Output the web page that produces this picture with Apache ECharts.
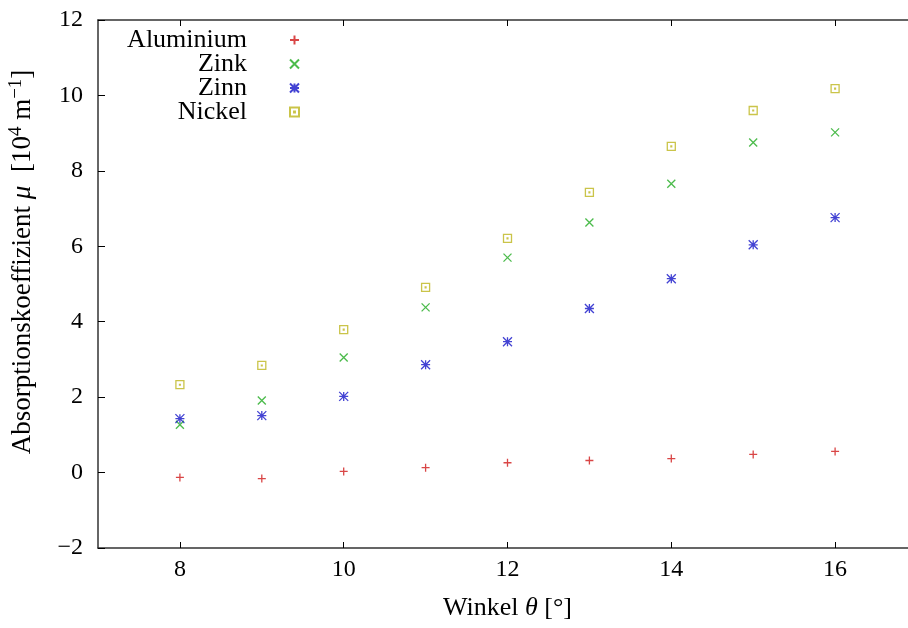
<!DOCTYPE html>
<html>
<head>
<meta charset="utf-8">
<script src="https://cdn.jsdelivr.net/npm/echarts@6/dist/echarts.min.js"></script>
<style>
  html, body { margin: 0; padding: 0; background: #fff; }
  #chart { width: 908px; height: 628px; }
</style>
</head>
<body>
<div id="chart"></div>
<script>
// Winkel theta in Grad
const winkel = [8, 9, 10, 11, 12, 13, 14, 15, 16]
// Absorptionskoeffizient in 10^4 m^-1
const aluminium = [-0.13, -0.16, 0.03, 0.13, 0.26, 0.32, 0.37, 0.48, 0.56]
const zink = [1.27, 1.91, 3.05, 4.38, 5.70, 6.63, 7.66, 8.75, 9.02]
const zinn = [1.43, 1.51, 2.02, 2.86, 3.47, 4.35, 5.14, 6.04, 6.76]
const nickel = [2.33, 2.84, 3.79, 4.91, 6.21, 7.43, 8.65, 9.60, 10.18]

const xTicks = [8, 10, 12, 14, 16]

const font = '"Liberation Serif", "DejaVu Serif", serif'

const symPlus = 'path://M5,0V10M0,5H10'
const symCross = 'path://M0,0L10,10M10,0L0,10'
const symStar = 'path://M0,0L10,10M10,0L0,10M5,0V10M0,5H10'
const symBox = 'path://M0,0H10V10H0ZM4.5,4.5H5.5V5.5H4.5Z'

function pairs(ys) {
  return winkel.map((x, i) => [x, ys[i]])
}

const seriesDefs = [
  { name: 'Aluminium', data: aluminium, symbol: symPlus, color: '#d01818', size: 8 },
  { name: 'Zink', data: zink, symbol: symCross, color: '#1eaa1e', size: 8 },
  { name: 'Zinn', data: zinn, symbol: symStar, color: '#1414c8', size: 9 },
  { name: 'Nickel', data: nickel, symbol: symBox, color: '#bdb51c', size: 8 }
]

const legendTops = [27, 51, 75, 99]

const richText = {
  n: { fontFamily: font, fontSize: 26, color: '#000' },
  i: { fontFamily: font, fontSize: 26, fontStyle: 'italic', color: '#000' },
  s: { fontFamily: font, fontSize: 18, color: '#000', verticalAlign: 'top', padding: [0, 0, 12, 0] }
}

const richY = {
  n: { fontFamily: font, fontSize: 27, color: '#000' },
  i: { fontFamily: font, fontSize: 27, fontStyle: 'italic', color: '#000' },
  s: { fontFamily: font, fontSize: 19, color: '#000', verticalAlign: 'top', padding: [0, 0, 12, 0] }
}

const chart = echarts.init(document.getElementById('chart'), null, { renderer: 'canvas' })

const option = {
  animation: false,
  backgroundColor: '#fff',
  grid: { left: 98, right: -9, top: 20, bottom: 80, outerBoundsMode: 'none', containLabel: false },
  legend: seriesDefs.map((s, i) => ({
    data: [s.name],
    orient: 'vertical',
    align: 'right',
    right: 908 - 300,
    top: legendTops[i],
    itemWidth: 9,
    itemHeight: 9,
    padding: 0,
    selectedMode: false,
    textStyle: { fontFamily: font, fontSize: 26, color: '#000', padding: [0, 38, 0, 0] }
  })),
  xAxis: [
    {
      type: 'value',
      min: 7,
      max: 17,
      interval: 1,
      name: '{n|Winkel }{i|θ}{n| [°]}',
      nameLocation: 'middle',
      nameGap: 47,
      nameTextStyle: { rich: richText },
      axisLine: { show: true, onZero: false, lineStyle: { color: '#333', width: 1.5 } },
      axisTick: { show: true, inside: true, length: 6, lineStyle: { color: '#000' },
        customValues: xTicks },
      axisLabel: { margin: 10, fontFamily: font, fontSize: 24, color: '#000',
        customValues: xTicks },
      splitLine: { show: false }
    },
    {
      type: 'value',
      position: 'top',
      min: 7,
      max: 17,
      interval: 1,
      axisLine: { show: true, onZero: false, lineStyle: { color: '#333', width: 1.5 } },
      axisTick: { show: true, inside: true, length: 6, lineStyle: { color: '#000' },
        customValues: xTicks },
      axisLabel: { show: false },
      splitLine: { show: false }
    }
  ],
  yAxis: {
    type: 'value',
    min: -2,
    max: 12,
    interval: 2,
    name: '{n|Absorptionskoeffizient }{i|μ}{n|  [10}{s|4}{n| m}{s|−1}{n|]}',
    nameLocation: 'middle',
    nameGap: 60,
    nameRotate: 90,
    nameTextStyle: { rich: richY, padding: [0, 0, 0, 44] },
    axisLine: { show: true, onZero: false, lineStyle: { color: '#333', width: 1.5 } },
    axisTick: { show: true, inside: true, length: 7, lineStyle: { color: '#000' } },
    axisLabel: {
      margin: 15, fontFamily: font, fontSize: 24, color: '#000',
      formatter: v => (v < 0 ? '\u2212' + Math.abs(v) : String(v))
    },
    splitLine: { show: false }
  },
  series: seriesDefs.map(s => ({
    name: s.name,
    type: 'scatter',
    data: pairs(s.data),
    symbol: s.symbol,
    symbolSize: s.size,
    itemStyle: { color: 'rgba(0,0,0,0)', borderColor: s.color, borderWidth: 1.3 }
  }))
}

chart.setOption(option)
</script>
</body>
</html>
